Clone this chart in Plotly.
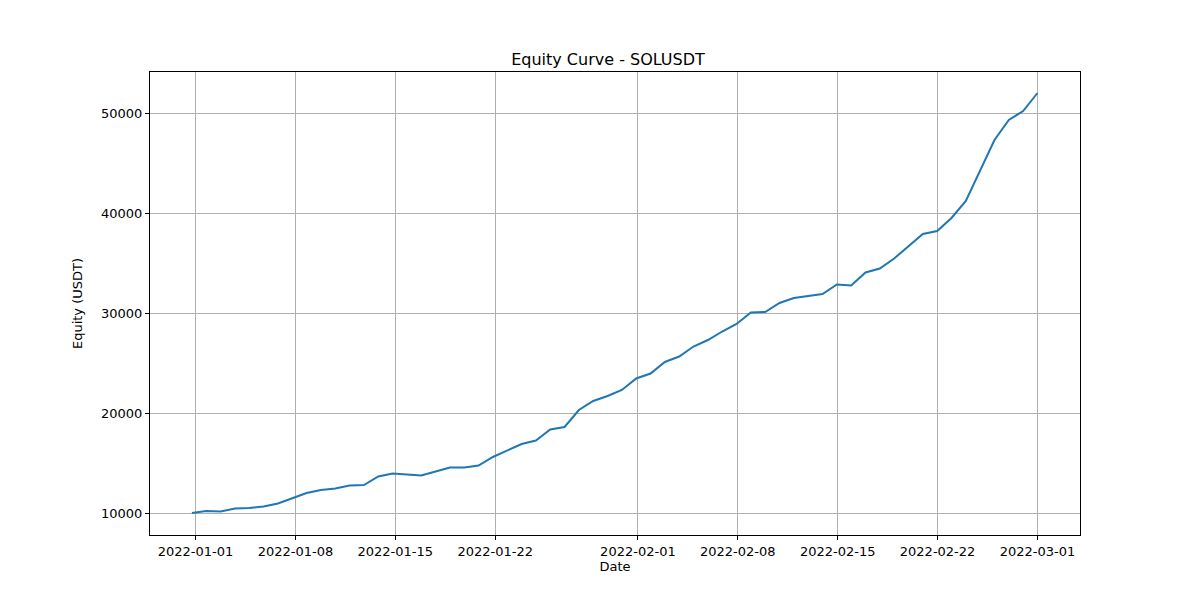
import pandas as pd
import plotly.graph_objects as go

# daily equity values
equity = [10000, 10200, 10150, 10450, 10500, 10650, 10950, 11500, 12000, 12300,
          12450, 12750, 12800, 13650, 13950, 13850, 13750, 14150, 14550, 14550,
          14750, 15600, 16250, 16900, 17250, 18350, 18600, 20300, 21200, 21700,
          22300, 23450, 23950, 25100, 25650, 26650, 27300, 28150, 28900, 30050,
          30100, 31000, 31500, 31700, 31900, 32850, 32750, 34050, 34450, 35450,
          36700, 37900, 38200, 39500, 41200, 44300, 47300, 49300, 50200, 52000]
dates = pd.date_range("2021-12-31 18:00", "2022-03-01 00:00", periods=len(equity))

tick_dates = ["2022-01-01", "2022-01-08", "2022-01-15", "2022-01-22",
              "2022-02-01", "2022-02-08", "2022-02-15", "2022-02-22", "2022-03-01"]
y_ticks = [10000, 20000, 30000, 40000, 50000]

fig = go.Figure(go.Scatter(x=dates, y=equity, mode="lines",
                           line=dict(color="#1f77b4", width=2)))

axis_style = dict(showline=True, linecolor="black", mirror=True, showgrid=True,
                  gridcolor="#b0b0b0", gridwidth=1, ticks="outside", ticklen=4,
                  tickcolor="black", zeroline=False)

fig.update_layout(
    width=1200, height=600,
    plot_bgcolor="white", paper_bgcolor="white",
    font=dict(family="DejaVu Sans", size=13, color="black"),
    title=dict(text="Equity Curve - SOLUSDT", x=0.5, xanchor="center", y=0.915,
               yanchor="middle", font=dict(size=16)),
    margin=dict(l=142, r=128, t=64, b=73),
    showlegend=False,
    xaxis=dict(title=dict(text="Date", standoff=4, font=dict(size=13)),
               tickvals=tick_dates, ticktext=tick_dates,
               range=[pd.Timestamp("2022-01-01") - pd.Timedelta(days=3.19),
                      pd.Timestamp("2022-03-01") + pd.Timedelta(days=2.98)],
               **axis_style),
    yaxis=dict(title=dict(text="Equity (USDT)", font=dict(size=13)),
               tickvals=y_ticks, ticktext=[str(v) for v in y_ticks],
               range=[7800, 54100], **axis_style),
)

fig.write_html("out.html")
